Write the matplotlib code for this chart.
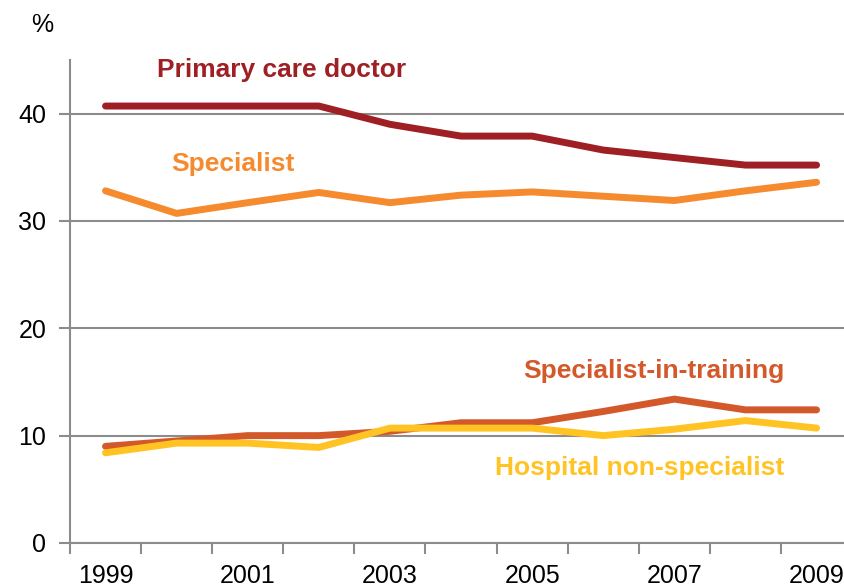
import numpy as np
import matplotlib
matplotlib.use("Agg")
import matplotlib.pyplot as plt

plt.rcParams['font.family'] = ['Liberation Sans', 'DejaVu Sans']

years = [1999, 2000, 2001, 2002, 2003, 2004, 2005, 2006, 2007, 2008, 2009]
primary = [40.7, 40.7, 40.7, 40.7, 39.0, 37.9, 37.9, 36.6, 35.9, 35.2, 35.2]
specialist = [32.8, 30.7, 31.7, 32.65, 31.7, 32.4, 32.7, 32.3, 31.9, 32.8, 33.6]
in_training = [9.0, 9.5, 10.0, 10.0, 10.4, 11.2, 11.2, 12.25, 13.4, 12.4, 12.4]
hospital = [8.4, 9.3, 9.3, 8.9, 10.7, 10.7, 10.7, 10.0, 10.6, 11.4, 10.7]

grey = '#8c8c8c'
x = np.arange(len(years))

fig = plt.figure(figsize=(8.45, 5.87), dpi=100)
ax = fig.add_axes([0.0828, 0.075, 0.9172, 0.823])

for vals, col in [(primary, '#9e1f24'), (specialist, '#f58a2e'),
                  (in_training, '#d4592a'), (hospital, '#ffc423')]:
    ax.plot(x, vals, color=col, lw=5, solid_capstyle='round',
            solid_joinstyle='round', zorder=3)

ax.set_xlim(-0.5, 10.4)
ax.set_ylim(0, 45)
ax.set_yticks([0, 10, 20, 30, 40])
ax.yaxis.grid(True, color=grey, lw=1.5)
ax.set_axisbelow(True)

# ticks sit between the years, labels on every other year
ax.set_xticks(np.arange(-0.5, 10.5, 1.0))
ax.set_xticklabels([])
ax.set_xticks(x[::2], minor=True)
ax.set_xticklabels([str(y) for y in years[::2]], minor=True)
ax.tick_params(axis='x', which='minor', length=0, pad=15, labelsize=18)
ax.tick_params(axis='x', which='major', length=8, width=1.5, color=grey)
ax.tick_params(axis='y', length=8, width=1.5, color=grey, labelsize=18, pad=9)

for s in ['top', 'right']:
    ax.spines[s].set_visible(False)
for s in ['left', 'bottom']:
    ax.spines[s].set_color(grey)
    ax.spines[s].set_linewidth(1.5)

fig.text(0.05, 0.957, '%', fontsize=18, ha='center', va='center')

ax.text(2.48, 44.1, 'Primary care doctor', color='#9e1f24', fontsize=19,
        fontweight='bold', ha='center', va='center')
ax.text(1.79, 35.3, 'Specialist', color='#f58a2e', fontsize=19,
        fontweight='bold', ha='center', va='center')
ax.text(7.71, 16.0, 'Specialist-in-training', color='#d4592a', fontsize=19,
        fontweight='bold', ha='center', va='center')
ax.text(7.51, 7.0, 'Hospital non-specialist', color='#ffc423', fontsize=19,
        fontweight='bold', ha='center', va='center')

fig.savefig('out.png', dpi=100)
